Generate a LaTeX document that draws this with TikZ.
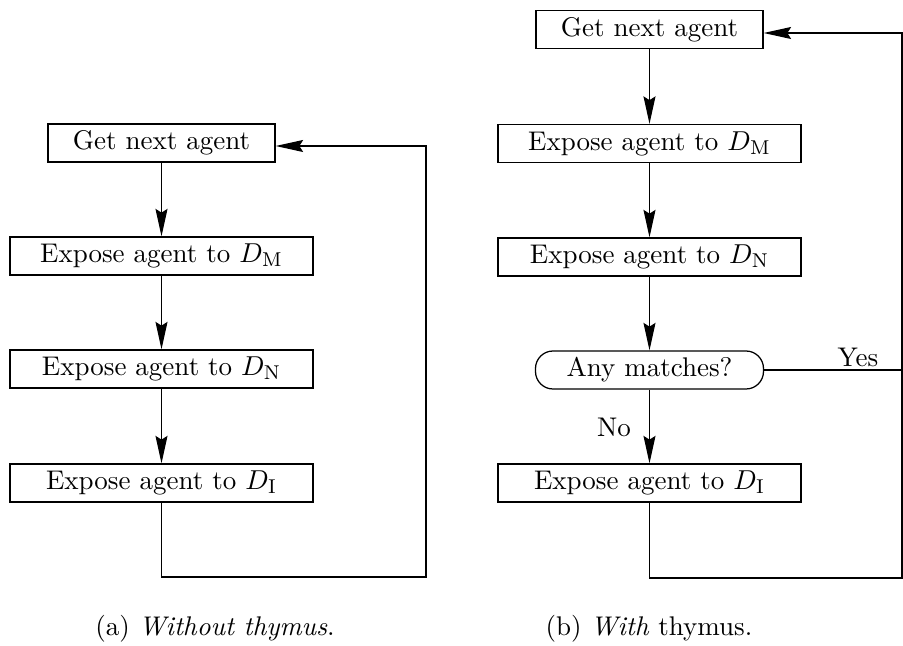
\documentclass[tikz,border=0pt]{standalone}
\usetikzlibrary{arrows.meta}
\begin{document}
\begin{tikzpicture}[x=0.4pt,y=-0.4pt,
  every node/.style={font=\fontsize{10.8}{13}\selectfont},
  flowbox/.style={draw,line width=0.5pt,inner sep=0pt,minimum height=38*0.4pt},
  wide/.style={flowbox,minimum width=303*0.4pt},
  narrow/.style={flowbox,minimum width=227*0.4pt},
  decide/.style={flowbox,minimum width=228*0.4pt,rounded corners=7pt},
  conn/.style={line width=0.5pt},
  arr/.style={conn,-{Stealth[length=11pt,width=4.8pt,inset=1.5pt]}},
  lbl/.style={inner sep=1pt}]
\useasboundingbox (0,0) rectangle (903,646);
% (a) without thymus
\node[narrow] (gl) at (161.5,143) {Get next agent};
\node[wide] (ml) at (161.5,256) {Expose agent to $D_{\mathrm{M}}$};
\node[wide] (nl) at (161.5,369) {Expose agent to $D_{\mathrm{N}}$};
\node[wide] (il) at (161.5,483) {Expose agent to $D_{\mathrm{I}}$};
\coordinate (la) at (426,577);
\coordinate (lb) at (426,146);
\draw[arr] (gl) -- (ml);
\draw[arr] (ml) -- (nl);
\draw[arr] (nl) -- (il);
\draw[arr] (il.south) |- (la) -- (lb) -- (gl.east |- lb);
\node[lbl] (capa) at (215,629) {(a) \textit{Without thymus}.};
% (b) with thymus
\node[narrow] (gr) at (649.5,29.5) {Get next agent};
\node[wide] (mr) at (649.5,143.5) {Expose agent to $D_{\mathrm{M}}$};
\node[wide] (nr) at (649.5,257) {Expose agent to $D_{\mathrm{N}}$};
\node[decide] (any) at (649.5,370) {Any matches?};
\node[wide] (ir) at (649.5,483) {Expose agent to $D_{\mathrm{I}}$};
\coordinate (ra) at (902,578);
\coordinate (rb) at (902,33);
\draw[arr] (gr) -- (mr);
\draw[arr] (mr) -- (nr);
\draw[arr] (nr) -- (any);
\draw[arr] (any) -- (ir);
\node[lbl] (no) at (614,427) {No};
\draw[conn] (any.east) -- node[lbl,above,pos=0.68] (yes) {Yes} (any.east -| ra);
\draw[arr] (ir.south) |- (ra) -- (rb) -- (gr.east |- rb);
\node[lbl] (capb) at (649,629) {(b) \textit{With} thymus.};
\end{tikzpicture}
\end{document}
